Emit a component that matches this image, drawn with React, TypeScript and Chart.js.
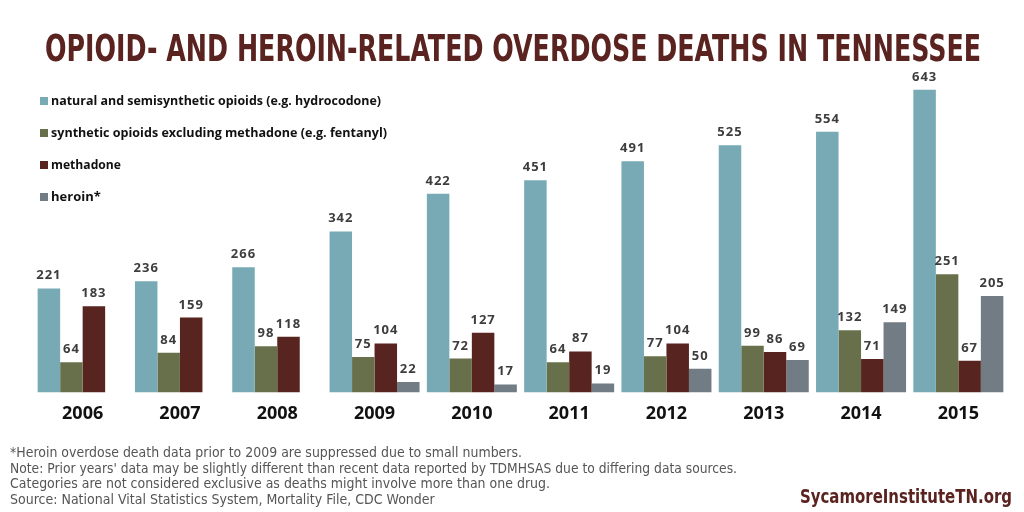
import React, { useEffect, useRef } from "react";
import { Chart, registerables } from "chart.js";

Chart.register(...registerables);

const years = ["2006", "2007", "2008", "2009", "2010", "2011", "2012", "2013", "2014", "2015"];
const natural = [221, 236, 266, 342, 422, 451, 491, 525, 554, 643];
const synthetic = [64, 84, 98, 75, 72, 64, 77, 99, 132, 251];
const methadone = [183, 159, 118, 104, 127, 87, 104, 86, 71, 67];
const heroin = [null, null, null, 22, 17, 19, 50, 69, 149, 205];

const seriesLabels = [
  "natural and semisynthetic opioids (e.g. hydrocodone)",
  "synthetic opioids excluding methadone (e.g. fentanyl)",
  "methadone",
  "heroin*",
];
const seriesColors = ["#77aab4", "#68704b", "#58241f", "#727c85"];

const titleText = "OPIOID- AND HEROIN-RELATED OVERDOSE DEATHS IN TENNESSEE";
const footLines = [
  "*Heroin overdose death data prior to 2009 are suppressed due to small numbers.",
  "Note: Prior years' data may be slightly different than recent data reported by TDMHSAS due to differing data sources.",
  "Categories are not considered exclusive as deaths might involve more than one drug.",
  "Source: National Vital Statistics System, Mortality File, CDC Wonder",
];
const brandText = "SycamoreInstituteTN.org";

function drawFitted(ctx: CanvasRenderingContext2D, text: string, x: number, y: number, targetW: number, align: "left" | "right") {
  const w = ctx.measureText(text).width;
  const sx = Math.min(1, targetW / w);
  ctx.save();
  ctx.translate(x, y);
  ctx.scale(sx, 1);
  ctx.textAlign = align;
  ctx.fillText(text, 0, 0);
  ctx.restore();
}

const decorPlugin = {
  id: "decor",
  afterDraw(chart: any) {
    const ctx: CanvasRenderingContext2D = chart.ctx;
    ctx.save();
    // Title
    ctx.fillStyle = "#5a2320";
    ctx.font = "bold 37px 'DejaVu Sans Condensed', 'Liberation Sans Narrow', 'Liberation Sans', sans-serif";
    ctx.textBaseline = "alphabetic";
    const tw = ctx.measureText(titleText).width;
    const target = 936;
    ctx.save();
    ctx.translate(45, 61);
    ctx.scale(target / tw, 1);
    ctx.textAlign = "left";
    ctx.fillText(titleText, 0, 0);
    ctx.restore();

    // Legend
    ctx.font = "bold 13px 'Open Sans', 'DejaVu Sans', sans-serif";
    ctx.textBaseline = "middle";
    const legW = [330, 336, 70, 51];
    chart.data.datasets.forEach((ds: any, i: number) => {
      const y = 101 + i * 32;
      ctx.fillStyle = ds.backgroundColor;
      ctx.fillRect(40, y - 4, 8, 8);
      ctx.fillStyle = "#111";
      drawFitted(ctx, ds.label, 51, y, legW[i], "left");
    });

    // Value labels
    ctx.font = "bold 13px 'Open Sans', 'DejaVu Sans', sans-serif";
    ctx.fillStyle = "#3d3d3d";
    ctx.textAlign = "center";
    ctx.textBaseline = "alphabetic";
    (ctx as any).letterSpacing = "1px";
    chart.data.datasets.forEach((ds: any, i: number) => {
      const meta = chart.getDatasetMeta(i);
      meta.data.forEach((bar: any, j: number) => {
        const v = ds.data[j];
        if (v === null || v === undefined) return;
        ctx.fillText(String(v), bar.x, bar.y - 9);
      });
    });
    (ctx as any).letterSpacing = "0px";

    // Footnotes
    ctx.fillStyle = "#555";
    ctx.font = "14px 'Liberation Sans Narrow', 'DejaVu Sans Condensed', 'Liberation Sans', sans-serif";
    ctx.textBaseline = "alphabetic";
    const lineW = [512, 727, 540, 427];
    footLines.forEach((t, i) => {
      drawFitted(ctx, t, 10, 457 + i * 15.5, lineW[i], "left");
    });

    // Brand
    ctx.fillStyle = "#5a2320";
    ctx.font = "bold 20px 'DejaVu Sans Condensed', 'Liberation Sans Narrow', 'Liberation Sans', sans-serif";
    drawFitted(ctx, brandText, 1012, 503, 212, "right");
    ctx.restore();
  },
};

export default function App() {
  const ref = useRef<HTMLCanvasElement>(null);
  useEffect(() => {
    if (!ref.current) return;
    const datas = [natural, synthetic, methadone, heroin];
    const chart = new Chart(ref.current, {
      type: "bar",
      data: {
        labels: years,
        datasets: datas.map((d, i) => ({
          label: seriesLabels[i],
          data: d as any,
          backgroundColor: seriesColors[i],
          borderWidth: 0,
          categoryPercentage: 0.925,
          barPercentage: 1.0,
        })),
      },
      options: {
        animation: false,
        responsive: false,
        maintainAspectRatio: false,
        layout: { padding: { left: 34, right: 17, top: 63, bottom: 84 } },
        plugins: {
          legend: { display: false },
          title: { display: false },
          tooltip: { enabled: false },
        },
        scales: {
          x: {
            grid: { display: false },
            border: { display: false },
            ticks: {
              color: "#111",
              padding: 3,
              font: { family: "'Open Sans', 'DejaVu Sans', sans-serif", size: 18, weight: "bold" },
            },
          },
          y: {
            display: false,
            min: 0,
            max: 700,
          },
        },
      },
      plugins: [decorPlugin],
    });
    return () => chart.destroy();
  }, []);
  return (
    <div style={{ position: "fixed", left: 0, top: 0, width: 1024, height: 512, background: "#fff" }}>
      <canvas ref={ref} width={1024} height={512} style={{ width: 1024, height: 512 }} />
    </div>
  );
}
